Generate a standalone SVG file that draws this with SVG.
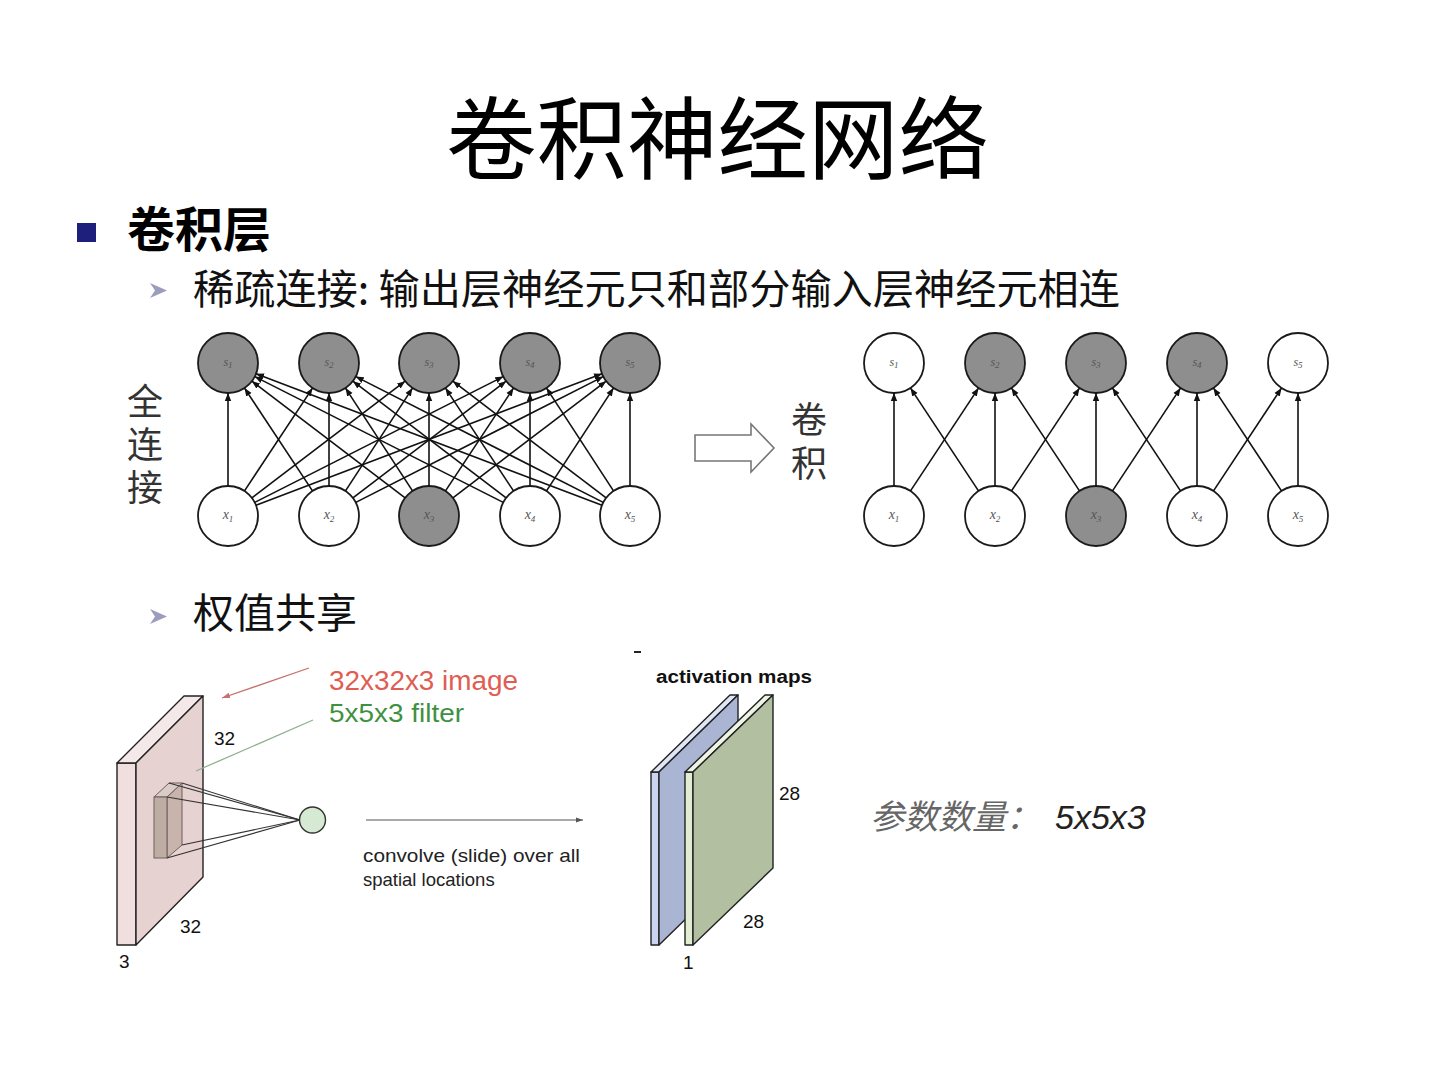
<svg xmlns="http://www.w3.org/2000/svg" width="1440" height="1080" viewBox="0 0 1440 1080">
<defs>
<style>
.cjk{font-family:"Noto Sans CJK SC","Noto Sans",sans-serif;}
.sans{font-family:"Liberation Sans",Arial,sans-serif;}
.vt{font-family:"Noto Sans CJK SC",sans-serif;font-size:36px;fill:#333;writing-mode:tb;glyph-orientation-vertical:0;}
.nd{stroke:#1a1a1a;stroke-width:1.8;}
.on{fill:#8e8e8e;}
.off{fill:#ffffff;}
.lbl{font-family:"Liberation Serif",serif;font-style:italic;fill:#555;text-anchor:middle;}
.ls{font-size:12px;}
.lx{font-size:14px;}
.sub{font-size:9px;}
.cn line{stroke:#111;stroke-width:1.6;marker-end:url(#ah);}
.slab{stroke:#222;stroke-width:1.4;stroke-linejoin:round;}
</style>
<marker id="ah" viewBox="0 0 10 10" refX="10" refY="5" markerWidth="8" markerHeight="8" markerUnits="userSpaceOnUse" orient="auto">
<path d="M0,1 L10,5 L0,9 z" fill="#111"/>
</marker>
<marker id="ahg" viewBox="0 0 10 10" refX="10" refY="5" markerWidth="7" markerHeight="7" markerUnits="userSpaceOnUse" orient="auto">
<path d="M0,1.5 L10,5 L0,8.5 z" fill="#555"/>
</marker>
<marker id="ahr" viewBox="0 0 10 10" refX="10" refY="5" markerWidth="8" markerHeight="8" markerUnits="userSpaceOnUse" orient="auto">
<path d="M0,1.5 L10,5 L0,8.5 z" fill="#c87070"/>
</marker>
</defs>
<rect width="1440" height="1080" fill="#ffffff"/>

<!-- Title and bullets -->
<g id="title"><text x="446" y="172" class="cjk" font-size="90" fill="#000" textLength="543" lengthAdjust="spacingAndGlyphs">卷积神经网络</text></g>
<g id="bullet1">
<rect x="77" y="223" width="19" height="19" fill="#1e1e7c"/>
<text x="127" y="247" class="cjk" font-size="48" font-weight="bold" fill="#000">卷积层</text>
</g>
<g id="bullet2">
<polygon points="150,283 167,290.5 150,298 155,290.5" fill="#9c9cbc"/>
<text x="193" y="304" class="cjk" font-size="41" fill="#111" textLength="927" lengthAdjust="spacingAndGlyphs">稀疏连接: 输出层神经元只和部分输入层神经元相连</text>
</g>
<g id="bullet3">
<polygon points="150,609 167,616.5 150,624 155,616.5" fill="#9c9cbc"/>
<text x="193" y="628" class="cjk" font-size="41" fill="#111">权值共享</text>
</g>

<!-- side labels (vertical text) -->
<g id="label-full"><text x="145" y="383" class="vt" letter-spacing="7">全连接</text></g>
<g id="label-conv"><text x="809" y="401" class="vt" letter-spacing="8">卷积</text></g>
<g id="big-arrow">
<polygon points="695,435 751,435 751,424 774,448 751,472 751,461 695,461" fill="#fff" stroke="#777" stroke-width="1.6"/>
</g>

<!-- Left network nodes -->
<g id="L-s1"><circle cx="228" cy="363" r="30" class="nd on"/><text x="228" y="366" class="lbl ls">s<tspan class="sub" dy="2">1</tspan></text></g>
<g id="L-s2"><circle cx="329" cy="363" r="30" class="nd on"/><text x="329" y="366" class="lbl ls">s<tspan class="sub" dy="2">2</tspan></text></g>
<g id="L-s3"><circle cx="429" cy="363" r="30" class="nd on"/><text x="429" y="366" class="lbl ls">s<tspan class="sub" dy="2">3</tspan></text></g>
<g id="L-s4"><circle cx="530" cy="363" r="30" class="nd on"/><text x="530" y="366" class="lbl ls">s<tspan class="sub" dy="2">4</tspan></text></g>
<g id="L-s5"><circle cx="630" cy="363" r="30" class="nd on"/><text x="630" y="366" class="lbl ls">s<tspan class="sub" dy="2">5</tspan></text></g>
<g id="L-x1"><circle cx="228" cy="516" r="30" class="nd off"/><text x="228" y="519" class="lbl lx">x<tspan class="sub" dy="3">1</tspan></text></g>
<g id="L-x2"><circle cx="329" cy="516" r="30" class="nd off"/><text x="329" y="519" class="lbl lx">x<tspan class="sub" dy="3">2</tspan></text></g>
<g id="L-x3"><circle cx="429" cy="516" r="30" class="nd on"/><text x="429" y="519" class="lbl lx">x<tspan class="sub" dy="3">3</tspan></text></g>
<g id="L-x4"><circle cx="530" cy="516" r="30" class="nd off"/><text x="530" y="519" class="lbl lx">x<tspan class="sub" dy="3">4</tspan></text></g>
<g id="L-x5"><circle cx="630" cy="516" r="30" class="nd off"/><text x="630" y="519" class="lbl lx">x<tspan class="sub" dy="3">5</tspan></text></g>

<!-- Right network nodes -->
<g id="R-s1"><circle cx="894" cy="363" r="30" class="nd off"/><text x="894" y="366" class="lbl ls">s<tspan class="sub" dy="2">1</tspan></text></g>
<g id="R-s2"><circle cx="995" cy="363" r="30" class="nd on"/><text x="995" y="366" class="lbl ls">s<tspan class="sub" dy="2">2</tspan></text></g>
<g id="R-s3"><circle cx="1096" cy="363" r="30" class="nd on"/><text x="1096" y="366" class="lbl ls">s<tspan class="sub" dy="2">3</tspan></text></g>
<g id="R-s4"><circle cx="1197" cy="363" r="30" class="nd on"/><text x="1197" y="366" class="lbl ls">s<tspan class="sub" dy="2">4</tspan></text></g>
<g id="R-s5"><circle cx="1298" cy="363" r="30" class="nd off"/><text x="1298" y="366" class="lbl ls">s<tspan class="sub" dy="2">5</tspan></text></g>
<g id="R-x1"><circle cx="894" cy="516" r="30" class="nd off"/><text x="894" y="519" class="lbl lx">x<tspan class="sub" dy="3">1</tspan></text></g>
<g id="R-x2"><circle cx="995" cy="516" r="30" class="nd off"/><text x="995" y="519" class="lbl lx">x<tspan class="sub" dy="3">2</tspan></text></g>
<g id="R-x3"><circle cx="1096" cy="516" r="30" class="nd on"/><text x="1096" y="519" class="lbl lx">x<tspan class="sub" dy="3">3</tspan></text></g>
<g id="R-x4"><circle cx="1197" cy="516" r="30" class="nd off"/><text x="1197" y="519" class="lbl lx">x<tspan class="sub" dy="3">4</tspan></text></g>
<g id="R-x5"><circle cx="1298" cy="516" r="30" class="nd off"/><text x="1298" y="519" class="lbl lx">x<tspan class="sub" dy="3">5</tspan></text></g>

<!-- Connectors -->
<g id="connectors" class="cn">
<line x1="228" y1="486" x2="228" y2="393"/>
<line x1="244.5" y1="490.9" x2="312.5" y2="388.1"/>
<line x1="251.9" y1="497.8" x2="405.1" y2="381.2"/>
<line x1="254.8" y1="502.4" x2="503.2" y2="376.6"/>
<line x1="256" y1="505.3" x2="602" y2="373.7"/>
<line x1="312.5" y1="490.9" x2="244.5" y2="388.1"/>
<line x1="329" y1="486" x2="329" y2="393"/>
<line x1="345.5" y1="490.9" x2="412.5" y2="388.1"/>
<line x1="352.9" y1="497.8" x2="506.1" y2="381.2"/>
<line x1="355.8" y1="502.4" x2="603.2" y2="376.6"/>
<line x1="405.1" y1="497.8" x2="251.9" y2="381.2"/>
<line x1="412.5" y1="490.9" x2="345.5" y2="388.1"/>
<line x1="429" y1="486" x2="429" y2="393"/>
<line x1="445.5" y1="490.9" x2="513.5" y2="388.1"/>
<line x1="452.9" y1="497.8" x2="606.1" y2="381.2"/>
<line x1="503.2" y1="502.4" x2="254.8" y2="376.6"/>
<line x1="506.1" y1="497.8" x2="352.9" y2="381.2"/>
<line x1="513.5" y1="490.9" x2="445.5" y2="388.1"/>
<line x1="530" y1="486" x2="530" y2="393"/>
<line x1="546.5" y1="490.9" x2="613.5" y2="388.1"/>
<line x1="602" y1="505.3" x2="256" y2="373.7"/>
<line x1="603.2" y1="502.4" x2="355.8" y2="376.6"/>
<line x1="606.1" y1="497.8" x2="452.9" y2="381.2"/>
<line x1="613.5" y1="490.9" x2="546.5" y2="388.1"/>
<line x1="630" y1="486" x2="630" y2="393"/>

<line x1="894" y1="486" x2="894" y2="393"/>
<line x1="910.5" y1="490.9" x2="978.5" y2="388.1"/>
<line x1="978.5" y1="490.9" x2="910.5" y2="388.1"/>
<line x1="995" y1="486" x2="995" y2="393"/>
<line x1="1011.5" y1="490.9" x2="1079.5" y2="388.1"/>
<line x1="1079.5" y1="490.9" x2="1011.5" y2="388.1"/>
<line x1="1096" y1="486" x2="1096" y2="393"/>
<line x1="1112.5" y1="490.9" x2="1180.5" y2="388.1"/>
<line x1="1180.5" y1="490.9" x2="1112.5" y2="388.1"/>
<line x1="1197" y1="486" x2="1197" y2="393"/>
<line x1="1213.5" y1="490.9" x2="1281.5" y2="388.1"/>
<line x1="1281.5" y1="490.9" x2="1213.5" y2="388.1"/>
<line x1="1298" y1="486" x2="1298" y2="393"/>
</g>

<!-- Weight sharing figure -->
<g id="image-slab">
<polygon class="slab" points="117,763 136,763 136,945 117,945" fill="#f1dfdf"/>
<polygon class="slab" points="117,763 136,763 203,696 184,696" fill="#f5e8e8"/>
<polygon class="slab" points="136,763 203,696 203,877 136,945" fill="#e7d2d2"/>
</g>
<g id="filter">
<polygon points="167,797 182,783 182,845 167,858" fill="#c8b4ad" stroke="#6f5f5a" stroke-width="1"/>
<polygon points="154,797 167,797 182,783 169,783" fill="#d9ccc6" stroke="#6f5f5a" stroke-width="1"/>
<rect x="154" y="797" width="13" height="61" fill="#bdada3" stroke="#6f5f5a" stroke-width="1"/>
<g stroke="#333" stroke-width="1.1">
<line x1="169" y1="783" x2="300" y2="820"/>
<line x1="182" y1="783" x2="300" y2="820"/>
<line x1="167" y1="797" x2="300" y2="820"/>
<line x1="167" y1="858" x2="300" y2="820"/>
<line x1="182" y1="845" x2="300" y2="820"/>
</g>
</g>
<g id="neuron"><circle cx="312.5" cy="820" r="13" fill="#d6e9d2" stroke="#333" stroke-width="1.4"/></g>
<g id="pointers">
<line x1="309" y1="668" x2="222" y2="698" stroke="#c87070" stroke-width="1.3" marker-end="url(#ahr)"/>
<line x1="313" y1="720" x2="196" y2="771" stroke="#8fb08f" stroke-width="1.3"/>
</g>
<text x="329" y="690" class="sans" font-size="27" fill="#df5d52" textLength="189" lengthAdjust="spacingAndGlyphs">32x32x3 image</text>
<text x="329" y="722" class="sans" font-size="26" fill="#3f9142" textLength="135" lengthAdjust="spacingAndGlyphs">5x5x3 filter</text>
<text x="214" y="745" class="sans" font-size="19" fill="#111">32</text>
<text x="180" y="933" class="sans" font-size="19" fill="#111">32</text>
<text x="119" y="968" class="sans" font-size="19" fill="#111">3</text>

<g id="conv-arrow">
<line x1="366" y1="820" x2="583" y2="820" stroke="#555" stroke-width="1.1" marker-end="url(#ahg)"/>
</g>
<text x="363" y="862" class="sans" font-size="18.5" fill="#222" textLength="217" lengthAdjust="spacingAndGlyphs">convolve (slide) over all</text>
<text x="363" y="886" class="sans" font-size="18.5" fill="#222">spatial locations</text>

<rect x="634" y="651" width="7" height="2" fill="#222"/>
<text x="656" y="683" class="sans" font-size="18" font-weight="bold" fill="#111" textLength="156" lengthAdjust="spacingAndGlyphs">activation maps</text>
<g id="map-blue">
<polygon class="slab" points="651,772 659,772 659,945 651,945" fill="#cad4ee"/>
<polygon class="slab" points="651,772 659,772 738,695 730,695" fill="#e0e6f5"/>
<polygon class="slab" points="659,772 738,695 738,868 659,945" fill="#a9b5d3"/>
</g>
<g id="map-green">
<polygon class="slab" points="685,772 693,772 693,945 685,945" fill="#e1ecd2"/>
<polygon class="slab" points="685,772 693,772 773,695 765,695" fill="#eef4e4"/>
<polygon class="slab" points="693,772 773,695 773,868 693,945" fill="#b3bfa1"/>
</g>
<text x="779" y="800" class="sans" font-size="19" fill="#111">28</text>
<text x="743" y="928" class="sans" font-size="19" fill="#111">28</text>
<text x="683" y="969" class="sans" font-size="19" fill="#111">1</text>

<g id="param-count">
<text x="870" y="829" font-size="34" font-style="italic"><tspan class="cjk" fill="#666">参数数量：</tspan><tspan class="sans" fill="#222" x="1055">5x5x3</tspan></text>
</g>
</svg>
